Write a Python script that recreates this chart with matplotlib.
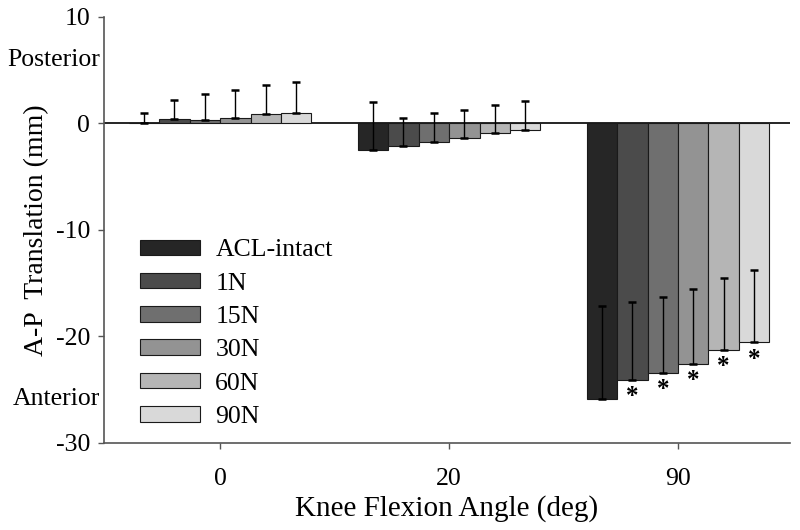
import matplotlib
matplotlib.use("Agg")
import matplotlib.pyplot as plt
import numpy as np

plt.rcParams['font.family'] = ['Liberation Serif', 'DejaVu Serif']
plt.rcParams['axes.unicode_minus'] = False

angles = ["0", "20", "90"]
series = ["ACL-intact", "1N", "15N", "30N", "60N", "90N"]
colors = ["#262626", "#4b4b4b", "#6f6f6f", "#939393", "#b5b5b5", "#d9d9d9"]

means = {
    "ACL-intact": [0.05, -2.5, -25.9],
    "1N":         [0.45, -2.1, -24.1],
    "15N":        [0.30, -1.7, -23.4],
    "30N":        [0.50, -1.4, -22.6],
    "60N":        [0.87, -0.86, -21.25],
    "90N":        [0.97, -0.6, -20.55],
}
sds = {
    "ACL-intact": [0.95, 4.5, 8.75],
    "1N":         [1.75, 2.6, 7.3],
    "15N":        [2.5, 2.7, 7.1],
    "30N":        [2.6, 2.7, 7.1],
    "60N":        [2.75, 2.6, 6.75],
    "90N":        [2.95, 2.7, 6.8],
}
significant_90 = ["1N", "15N", "30N", "60N", "90N"]

fig = plt.figure(figsize=(8, 5.3), dpi=100)
ax = fig.add_axes([0.13, 0.1642, 0.8575, 0.8038])

x = np.arange(len(angles))
w = 0.133
for i, s in enumerate(series):
    xs = x + (i - 2.5) * w
    m = np.array(means[s])
    e = np.array(sds[s])
    ax.bar(xs, m, width=w, color=colors[i], edgecolor="#1a1a1a", linewidth=0.8,
           label=s, zorder=2)
    ax.errorbar(xs, m, yerr=[np.zeros_like(e), e], fmt="none", ecolor="black",
                elinewidth=1.0, capsize=3, capthick=1.8, zorder=3)
    if s in significant_90:
        ax.text(xs[2], m[2] - 0.5, "*", ha="center", va="top", fontsize=18,
                fontweight="bold", zorder=4)

ax.axhline(0, color="black", lw=1.2, zorder=1)

ax.set_xlim(-0.507, 2.489)
ax.set_ylim(-30, 10)
ax.set_yticks([10, 0, -10, -20, -30])
ax.set_xticks(x)
ax.set_xticklabels(angles)
ax.tick_params(axis="both", labelsize=18.5, direction="out", length=4, width=1,
               color="#555555")
ax.tick_params(axis="x", pad=14)
ax.tick_params(axis="y", pad=6)
for sp in ["top", "right"]:
    ax.spines[sp].set_visible(False)
for sp in ["left", "bottom"]:
    ax.spines[sp].set_color("#555555")
    ax.spines[sp].set_linewidth(1.2)

ax.text(-0.005, 6.0, "Posterior", transform=ax.get_yaxis_transform(), ha="right",
        va="center", fontsize=18.5)
ax.text(-0.005, -25.9, "Anterior", transform=ax.get_yaxis_transform(), ha="right",
        va="center", fontsize=18.5)

ax.set_xlabel("Knee Flexion Angle (deg)", fontsize=21, labelpad=4)
ax.set_ylabel("A-P  Translation (mm)", fontsize=20, labelpad=4.5)

ax.legend(loc="upper left", bbox_to_anchor=(0.0525, 0.478), frameon=False,
          fontsize=18.5, handlelength=2.33, handleheight=0.55, labelspacing=0.44,
          handletextpad=0.6, borderaxespad=0, borderpad=0)

fig.savefig("out.png", dpi=100)
